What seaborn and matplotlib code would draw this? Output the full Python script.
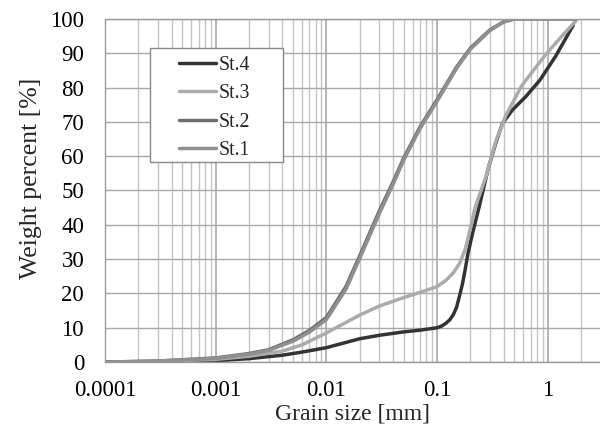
import numpy as np
import pandas as pd
import seaborn as sns
import matplotlib.pyplot as plt
from matplotlib.patches import Rectangle
from matplotlib.ticker import LogLocator, FixedLocator, FuncFormatter

sns.set_theme(style='white')
plt.rcParams['font.family'] = ['Liberation Serif', 'DejaVu Serif']

# grain size [mm] and cumulative weight percent per station
st4_size = [0.0001, 0.0003, 0.001, 0.002, 0.004, 0.006, 0.01, 0.02, 0.03, 0.05, 0.07, 0.1,
            0.11, 0.12, 0.13, 0.14, 0.15, 0.16, 0.17, 0.18, 0.19, 0.21, 0.24, 0.29, 0.34,
            0.39, 0.48, 0.63, 0.85, 1.17, 1.7]
st4_pct = [0, 0.1, 0.4, 1.0, 2.0, 2.9, 4.2, 6.8, 7.8, 8.8, 9.3, 10,
           10.5, 11.3, 12.3, 13.8, 16, 19.5, 23, 27.3, 31.7, 37.8, 45.3, 56.5, 64,
           69.6, 73.5, 77.3, 82.2, 89, 98.2]

st3_size = [0.0001, 0.0003, 0.001, 0.002, 0.004, 0.006, 0.01, 0.02, 0.03, 0.05, 0.07, 0.1,
            0.12, 0.14, 0.16, 0.18, 0.2, 0.22, 0.276, 0.34, 0.42, 0.58, 0.95, 1.3, 1.8]
st3_pct = [0, 0.2, 0.8, 1.7, 3.2, 5.0, 8.5, 13.7, 16.3, 18.8, 20.3, 22,
           23.8, 26, 28.8, 33, 39, 45, 54, 64.5, 72, 80.5, 89.5, 94.5, 99.5]

st2_size = [0.0001, 0.0003, 0.001, 0.002, 0.003, 0.005, 0.007, 0.01, 0.015, 0.02, 0.03, 0.04,
            0.05, 0.07, 0.1, 0.15, 0.2, 0.3, 0.4, 0.5, 1.0, 1.8]
st2_pct = [0, 0.3, 1.2, 2.5, 3.6, 6.5, 9.2, 13, 22, 31, 44, 52.5,
           59.5, 68.5, 76.5, 86, 91.5, 96.8, 99.2, 100, 100, 100]

st1_size = [0.0001, 0.0003, 0.001, 0.002, 0.003, 0.005, 0.007, 0.01, 0.015, 0.02, 0.03, 0.04,
            0.05, 0.07, 0.1, 0.15, 0.2, 0.3, 0.4, 0.5, 1.0, 1.8]
st1_pct = [0, 0.3, 1.1, 2.3, 3.4, 6.1, 8.7, 12.4, 21.2, 30.2, 43.2, 51.8,
           58.9, 68.0, 76.0, 85.6, 91.2, 96.6, 99.1, 100, 100, 100]

stations = ['St.4', 'St.3', 'St.2', 'St.1']
colors = ['#333333', '#ababab', '#6e6e6e', '#8f8f8f']

df = pd.concat([
    pd.DataFrame({'size': s, 'pct': p, 'station': name})
    for s, p, name in zip([st4_size, st3_size, st2_size, st1_size],
                          [st4_pct, st3_pct, st2_pct, st1_pct], stations)
], ignore_index=True)

fig = plt.figure(figsize=(6, 4.29), dpi=100)
ax = fig.add_axes([0.175, 0.156, 0.825, 0.8])

ax.set_xscale('log')
ax.set_xlim(1e-4, 2.96)
ax.set_ylim(0, 100)

# grid: major + minor on log axis, every 10 % on y
ax.xaxis.set_major_locator(FixedLocator([1e-4, 1e-3, 1e-2, 1e-1, 1]))
ax.xaxis.set_minor_locator(LogLocator(base=10, subs=np.arange(2, 10), numticks=20))
ax.xaxis.set_major_formatter(FuncFormatter(lambda v, _: '%g' % v))
ax.set_yticks(range(0, 101, 10))
ax.grid(which='major', axis='x', color='#a0a0a0', linewidth=1.1)
ax.grid(which='minor', axis='x', color='#c4c4c4', linewidth=1.0)
ax.grid(which='major', axis='y', color='#a8a8a8', linewidth=1.0)
ax.set_axisbelow(True)

sns.lineplot(data=df, x='size', y='pct', hue='station', hue_order=stations,
             palette=colors, sort=False, estimator=None, linewidth=2.5, ax=ax)

for side in ['left', 'top', 'bottom']:
    ax.spines[side].set_color('#999999')
    ax.spines[side].set_linewidth(1.0)
ax.spines['right'].set_visible(False)
ax.tick_params(axis='x', which='both', length=0, labelsize=16.5, colors='black', pad=13)
ax.tick_params(axis='y', which='both', length=0, labelsize=16.5, colors='black', pad=15)

ax.set_xlabel('Grain size [mm]', fontsize=17)
ax.xaxis.set_label_coords(0.5, -0.121)
ax.set_ylabel('Weight percent [%]', fontsize=18.5)
ax.yaxis.set_label_coords(-0.128, 0.534)

# legend: white box drawn separately so the padding matches the original
ax.add_patch(Rectangle((0.091, 0.583), 0.269, 0.332, transform=ax.transAxes,
                       facecolor='white', edgecolor='#888888', linewidth=1.0, zorder=4))
handles, labels = ax.get_legend_handles_labels()
leg = ax.legend(handles, labels, loc='upper left', bbox_to_anchor=(0.1495, 0.893),
                fontsize=14.3, frameon=False, handlelength=1.86, handletextpad=0.15,
                labelspacing=0.48, borderpad=0, borderaxespad=0)
leg.set_zorder(5)

plt.savefig('out.png', dpi=100)
